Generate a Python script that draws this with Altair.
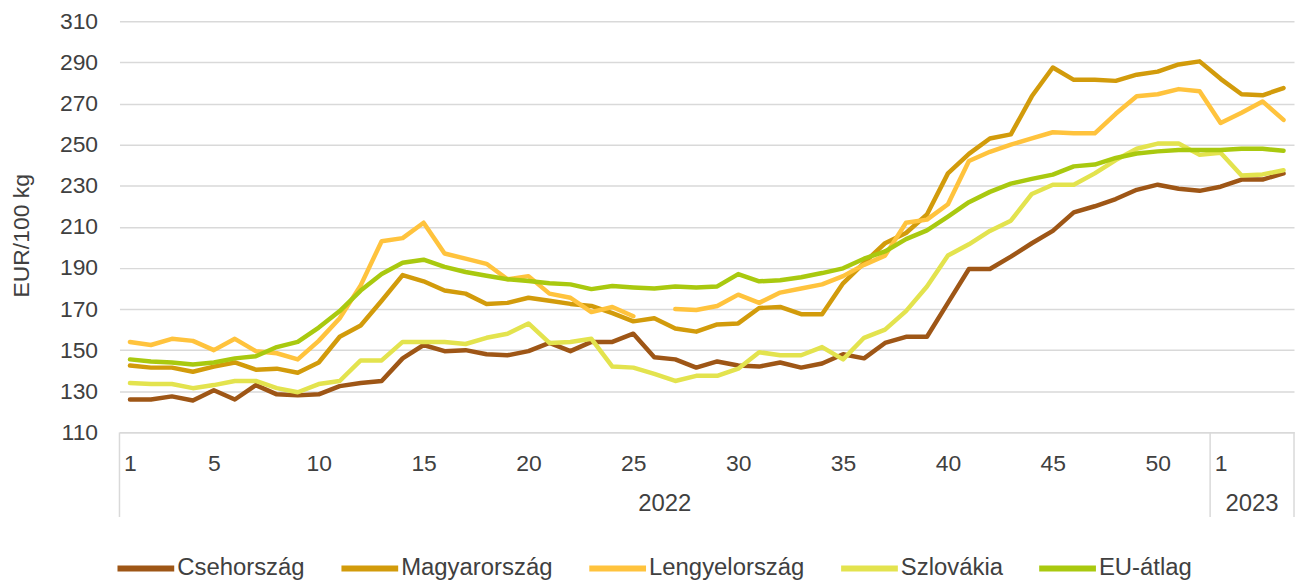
import altair as alt
import pandas as pd

# ---- data ----
series_names = ["Csehország", "Magyarország", "Lengyelország", "Szlovákia", "EU-átlag"]
series_colors = ["#9E5616", "#D29B0B", "#FFC33D", "#E3E34E", "#A9C90F"]

years = ["2022", "2023"]
weeks_per_year = [52, 4]
tick_weeks_2022 = [1, 5, 10, 15, 20, 25, 30, 35, 40, 45, 50]
tick_weeks_2023 = [1]

# 52 weeks of 2022 followed by 4 weeks of 2023
cseh = [126, 126, 127.5, 125.5, 130.5, 126, 133, 128.5, 128, 128.5,
        132.5, 134, 135, 146, 152.5, 149.5, 150, 148, 147.5, 149.5,
        153.5, 149.5, 154, 154, 158, 146.5, 145.5, 141.5, 144.5, 142.5,
        142, 144, 141.5, 143.5, 148, 146, 153.5, 156.5, 156.5, 173,
        189.5, 189.5, 195.5, 202, 208, 217, 220, 223.5, 228, 230.5,
        228.5, 227.5,
        229.5, 233, 233, 236]
magyar = [142.5, 141.5, 141.5, 139.5, 142, 144, 140.5, 141, 139, 144,
          156.5, 162, 174, 186.5, 183.5, 179, 177.5, 172.5, 173, 175.5,
          174, 172.5, 171.5, 168, 164, 165.5, 160.5, 159, 162.5, 163,
          170.5, 171, 167.5, 167.5, 182.5, 192.5, 202, 207, 216, 236,
          245.5, 253, 255, 273.5, 287.5, 281.5, 281.5, 281, 284, 285.5,
          289, 290.5,
          282, 274.5, 274, 277.5]
lengyel = [154, 152.5, 155.5, 154.5, 150, 155.5, 149.5, 148.5, 145.5, 154.5,
           165.5, 181.5, 203, 204.5, 212, 197, 194.5, 192, 184.5, 186,
           177.5, 175.5, 168.5, 171, 166.5, None, 170, 169.5, 171.5, 177,
           173, 178, 180, 182, 186, 191.5, 196, 212, 213.5, 221,
           242, 246.5, 250, 253, 256, 255.5, 255.5, 265, 273.5, 274.5,
           277, 276,
           260.5, 265.5, 271, 262]
szlovak = [134, 133.5, 133.5, 131.5, 133, 135, 135, 131.5, 129.5, 133.5,
           135, 145, 145, 154, 154, 154, 153, 156, 158, 163,
           153.5, 154, 155.5, 142, 141.5, 138.5, 135, 137.5, 137.5, 141,
           149, 147.5, 147.5, 151.5, 145.5, 156, 160, 169, 181, 196,
           201.5, 208, 213, 226, 230.5, 230.5, 236, 242.5, 248, 250.5,
           250.5, 245,
           246, 235, 235.5, 237.5]
eu = [145.5, 144.5, 144, 143, 144, 146, 147, 151.5, 154, 161,
      169, 179, 187, 192.5, 194, 190.5, 188, 186.2, 184.5, 183.6,
      182.5, 182, 179.7, 181.2, 180.5, 180, 181, 180.5, 181, 187,
      183.5, 184, 185.5, 187.5, 189.8, 194.5, 198, 204, 208.3, 215,
      222, 227, 231, 233.3, 235.4, 239.4, 240.3, 243.5, 245.7, 246.7,
      247.4, 247.4,
      247.4, 248, 248, 247]

all_series = [cseh, magyar, lengyel, szlovak, eu]

rows = []
for name, vals in zip(series_names, all_series):
    for i, v in enumerate(vals):
        rows.append({"series": name, "pos": i + 1, "value": v})
df = pd.DataFrame(rows)

# axis tick positions (2023 weeks continue after the 52 weeks of 2022)
tick_positions = tick_weeks_2022 + [weeks_per_year[0] + w for w in tick_weeks_2023]

# year groups: centers and boundaries
starts = []
acc = 0
for n in weeks_per_year:
    starts.append(acc)
    acc += n
year_df = pd.DataFrame({
    "year": years,
    "center": [s + n / 2 + 0.5 for s, n in zip(starts, weeks_per_year)],
})
bound_df = pd.DataFrame({"b": [s + 0.5 for s in starts] + [acc + 0.5]})

# ---- chart ----
W, H = 1180, 413
TEXT = "#404040"
GRID = "#D9D9D9"
FS = 23

x_scale = alt.Scale(domain=[0.5, acc + 0.5], nice=False, zero=False)
y_scale = alt.Scale(domain=[110, 310], nice=False, zero=False)

x_axis = alt.Axis(values=tick_positions,
                  labelExpr="datum.value > 52 ? datum.value - 52 : datum.value",
                  grid=False, ticks=False, tickSize=0, domain=True,
                  domainColor=GRID, domainWidth=1.5,
                  labelFontSize=FS, labelColor=TEXT, labelPadding=20,
                  labelOverlap=False, labelFlush=False, title=None)

lines = alt.Chart(df).mark_line(strokeWidth=4.5, strokeCap="round", strokeJoin="round").encode(
    x=alt.X("pos:Q", scale=x_scale, axis=x_axis),
    y=alt.Y("value:Q", scale=y_scale,
            axis=alt.Axis(values=list(range(110, 311, 20)),
                          gridColor=GRID, gridWidth=1.5, domain=False,
                          ticks=False, tickSize=0, labelPadding=22,
                          labelFontSize=FS, labelColor=TEXT,
                          title="EUR/100 kg", titleFontSize=23,
                          titleFontWeight="normal", titleColor=TEXT,
                          titleX=-98, titleY=215, titleAngle=270,
                          titleAlign="center", titleBaseline="middle")),
    color=alt.Color("series:N",
                    scale=alt.Scale(domain=series_names, range=series_colors),
                    sort=series_names,
                    legend=alt.Legend(orient="none", legendX=-5, legendY=518,
                                      direction="horizontal", columns=5,
                                      title=None, symbolType="stroke",
                                      symbolSize=3249, symbolStrokeWidth=6,
                                      labelFontSize=24, labelColor=TEXT,
                                      labelOffset=0, columnPadding=24,
                                      padding=0)),
)

year_text = alt.Chart(year_df).mark_text(fontSize=24, color=TEXT, baseline="middle").encode(
    x=alt.X("center:Q", scale=x_scale, axis=x_axis),
    y=alt.value(485),
    text="year:N",
)

rules = alt.Chart(bound_df).mark_rule(color=GRID, strokeWidth=1.5).encode(
    x=alt.X("b:Q", scale=x_scale, axis=x_axis),
    y=alt.value(H),
    y2=alt.value(H + 85),
)

chart = alt.layer(lines, rules, year_text).properties(
    width=W, height=H,
    padding={"left": 112, "top": 12, "right": 2, "bottom": 150},
    autosize=alt.AutoSizeParams(type="none"),
).configure(font="Liberation Sans").configure_view(strokeWidth=0)

chart.save("out.html", embed_options={"renderer": "svg", "actions": False})
